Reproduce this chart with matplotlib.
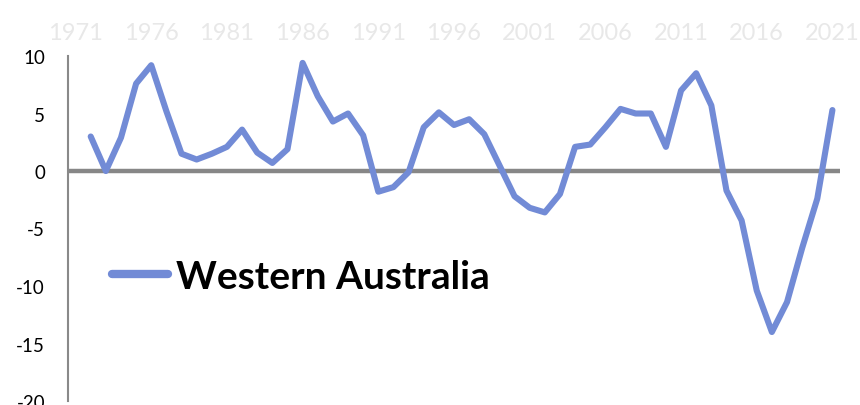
import numpy as np
import matplotlib.pyplot as plt

# years on the category axis (1971 has no value)
years = list(range(1971, 2022))
tick_years = [1971, 1976, 1981, 1986, 1991, 1996, 2001, 2006, 2011, 2016, 2021]

# annual growth, Western Australia (1972-2021)
wa_values = [np.nan,
             3.0, 0.0, 2.9, 7.6, 9.2, 5.2, 1.5, 1.0, 1.5, 2.1,
             3.6, 1.6, 0.7, 1.9, 9.4, 6.5, 4.3, 5.0, 3.1, -1.8,
             -1.4, -0.1, 3.8, 5.1, 4.0, 4.5, 3.2, 0.5, -2.2, -3.2,
             -3.6, -2.0, 2.1, 2.3, 3.8, 5.4, 5.0, 5.0, 2.1, 7.0,
             8.5, 5.7, -1.7, -4.3, -10.4, -14.0, -11.4, -6.7, -2.4, 5.3]


def main():
    plt.rcParams['font.family'] = ['Lato', 'DejaVu Sans']
    plt.rcParams['axes.unicode_minus'] = False

    fig = plt.figure(figsize=(8.6, 4.06), dpi=100)
    ax = fig.add_axes([68 / 860, 4 / 406, 772 / 860, 345 / 406])

    # zero line
    ax.axhline(0, color='#878787', lw=3.2, zorder=1)

    ax.plot(years, wa_values, color='#728bd6', lw=4.4,
            solid_joinstyle='round', solid_capstyle='round',
            label='Western Australia', zorder=2)

    ax.set_xlim(1970.5, 2021.5)
    ax.set_ylim(-20, 10)
    ax.set_yticks([-20, -15, -10, -5, 0, 5, 10])

    # year labels sit above the plot in very light grey
    ax.xaxis.tick_top()
    ax.set_xticks(tick_years)
    ax.set_xticklabels([str(y) for y in tick_years])
    ax.tick_params(axis='x', length=0, pad=9, labelsize=17, labelcolor='#e8e8e8')
    ax.tick_params(axis='y', length=0, pad=16.5, labelsize=13.5, labelcolor='black')

    for side in ['top', 'right', 'bottom']:
        ax.spines[side].set_visible(False)
    ax.spines['left'].set_color('#898989')
    ax.spines['left'].set_linewidth(1.5)

    leg = ax.legend(loc='center left', bbox_to_anchor=(0.057, 0.362),
                    frameon=False, borderpad=0, borderaxespad=0,
                    handlelength=1.45, handletextpad=0.2,
                    prop={'size': 28, 'weight': 'bold'})
    for line in leg.get_lines():
        line.set_linewidth(6)
        line.set_solid_capstyle('round')

    fig.savefig('out.png', dpi=100)


if __name__ == '__main__':
    main()
